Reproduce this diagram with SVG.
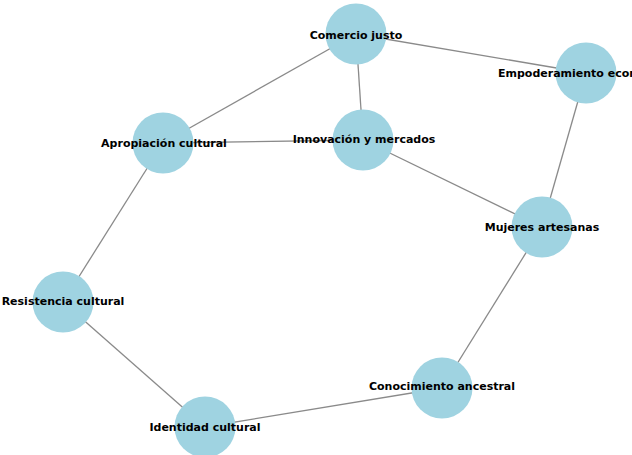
<svg xmlns="http://www.w3.org/2000/svg" width="632" height="455" viewBox="0 0 632 455">
<style>
.e{stroke:#8a8a8a;stroke-width:1.3;fill:none}
.n{fill:#9fd3e1}
.t{font-family:"DejaVu Sans",sans-serif;font-weight:bold;font-size:11px;fill:#000;text-anchor:middle;dominant-baseline:central}
</style>
<rect width="632" height="455" fill="#ffffff"/>
<g id="edges">
<line class="e" x1="356" y1="34" x2="586" y2="73"/>
<line class="e" x1="356" y1="34" x2="163" y2="143"/>
<line class="e" x1="356" y1="34" x2="363" y2="140"/>
<line class="e" x1="163" y1="143" x2="363" y2="140"/>
<line class="e" x1="163" y1="143" x2="63" y2="302"/>
<line class="e" x1="363" y1="140" x2="542" y2="227"/>
<line class="e" x1="586" y1="73" x2="542" y2="227"/>
<line class="e" x1="542" y1="227" x2="442" y2="388"/>
<line class="e" x1="442" y1="388" x2="205" y2="427"/>
<line class="e" x1="205" y1="427" x2="63" y2="302"/>
</g>
<g id="comercio"><circle class="n" cx="356" cy="34" r="30.5"/><text class="t" x="356" y="35">Comercio justo</text></g>
<g id="empoderamiento"><circle class="n" cx="586" cy="73" r="30.5"/><text class="t" x="586" y="73">Empoderamiento económico</text></g>
<g id="apropiacion"><circle class="n" cx="163" cy="143" r="30.5"/><text class="t" x="164" y="143">Apropiación cultural</text></g>
<g id="innovacion"><circle class="n" cx="363" cy="140" r="30.5"/><text class="t" x="364" y="139">Innovación y mercados</text></g>
<g id="mujeres"><circle class="n" cx="542" cy="227" r="30.5"/><text class="t" x="542" y="227">Mujeres artesanas</text></g>
<g id="resistencia"><circle class="n" cx="63" cy="302" r="30.5"/><text class="t" x="63" y="301">Resistencia cultural</text></g>
<g id="conocimiento"><circle class="n" cx="442" cy="388" r="30.5"/><text class="t" x="442" y="386">Conocimiento ancestral</text></g>
<g id="identidad"><circle class="n" cx="205" cy="427" r="30.5"/><text class="t" x="205" y="427">Identidad cultural</text></g>
</svg>
